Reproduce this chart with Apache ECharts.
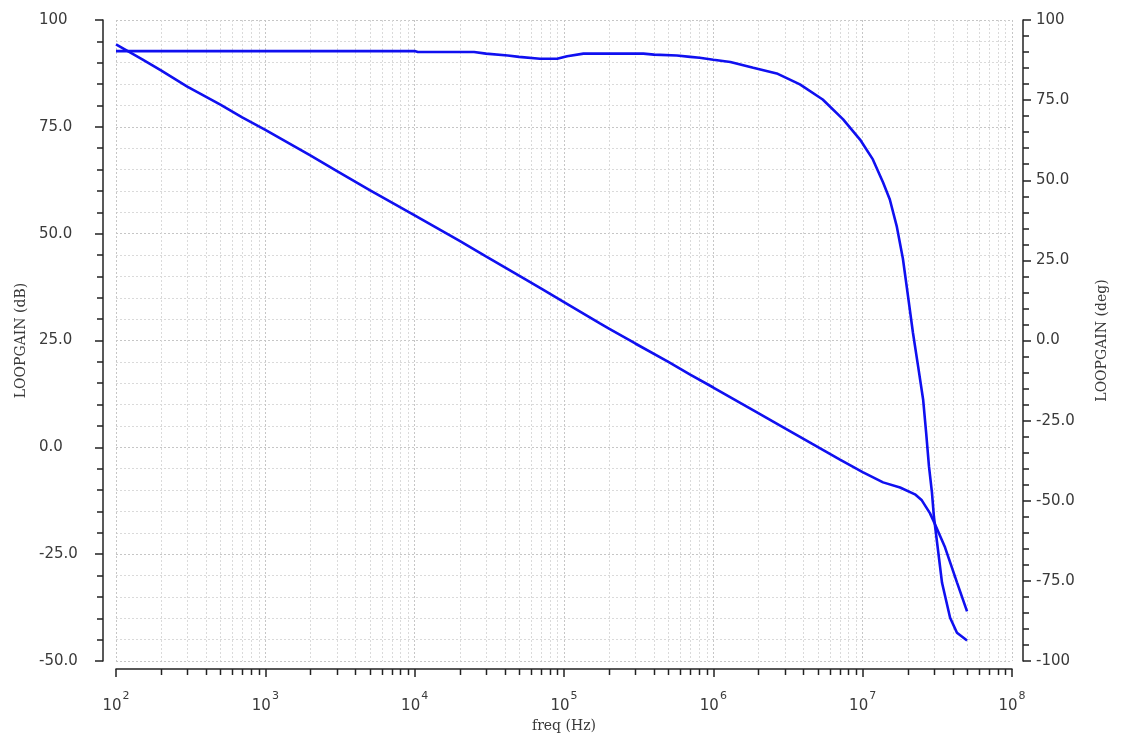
<!DOCTYPE html>
<html>
<head>
<meta charset="utf-8">
<style>
  html, body { margin: 0; padding: 0; background: #ffffff; }
  #chart { width: 1123px; height: 738px; }
</style>
<script src="https://cdn.jsdelivr.net/npm/echarts@6/dist/echarts.min.js"></script>
</head>
<body>
<div id="chart"></div>
<script>
// ---- Data ----
var magFreq = [100, 150, 200, 300, 500, 700, 1e3, 2e3, 3e3, 5e3, 7e3, 1e4, 2e4, 3e4, 5e4, 7e4,
  1e5, 1.74e5, 2e5, 3e5, 5e5, 7e5, 1e6, 2e6, 3e6, 4.6e6, 7e6, 1e7, 1.37e7, 1.78e7, 2.24e7,
  2.49e7, 2.82e7, 3.05e7, 3.56e7, 4.28e7, 5e7];
var magDb = [94.3, 90.8, 88.2, 84.4, 80.2, 77.2, 74.3, 68.3, 64.7, 60.2, 57.3, 54.3, 48.3, 44.7, 40.2, 37.2,
  34.0, 29.0, 27.8, 24.3, 20.0, 17.0, 14.0, 8.0, 4.5, 0.8, -2.8, -5.8, -8.2, -9.4, -11.0,
  -12.4, -15.4, -18.0, -23.4, -31.6, -38.4];

var phaseFreq = [100, 1e4, 1.05e4, 2.5e4, 3e4, 4.2e4, 5e4, 6.9e4, 9e4, 1.05e5, 1.35e5, 3.4e5, 4e5,
  5.7e5, 7e5, 8.1e5, 1e6, 1.3e6, 1.85e6, 2.7e6, 3.8e6, 5.4e6, 7.4e6, 9.6e6, 1.17e7, 1.37e7,
  1.52e7, 1.69e7, 1.86e7, 2.01e7, 2.17e7, 2.35e7, 2.54e7, 2.66e7, 2.78e7, 2.91e7, 3.0e7,
  3.4e7, 3.85e7, 4.28e7, 5e7];
var phaseDeg = [90.3, 90.3, 90.0, 90.0, 89.5, 88.9, 88.5, 87.9, 87.9, 88.7, 89.5, 89.5, 89.2,
  88.9, 88.5, 88.2, 87.6, 86.9, 85.1, 83.2, 79.9, 75.2, 69.0, 62.7, 56.5, 49.3,
  44.0, 35.7, 25.5, 14.0, 2.5, -8.0, -18.4, -28.7, -39.3, -47.4, -55.0,
  -75.6, -86.5, -91.2, -93.6];

var xTickExponents = ['2', '3', '4', '5', '6', '7', '8'];
var leftTickLabels = ['-50.0', '-25.0', '0.0', '25.0', '50.0', '75.0', '100'];
var rightTickLabels = ['-100', '-75.0', '-50.0', '-25.0', '0.0', '25.0', '50.0', '75.0', '100'];
var minorFreqs = [];
[100, 1e3, 1e4, 1e5, 1e6, 1e7].forEach(function (d) {
  [2, 3, 4, 5, 6, 7, 8, 9].forEach(function (k) { minorFreqs.push(k * d); });
});

// ---- Chart ----
var chart = echarts.init(document.getElementById('chart'), null, { renderer: 'canvas' });
var lineColor = '#1010f0';
var axisColor = '#222222';
var labelColor = '#3a3a3a';
var gridMajor = '#c6c6c6';
var gridMinor = '#dadada';
var numFont = '"DejaVu Sans", Verdana, sans-serif';
var nameFont = '"DejaVu Serif", "Liberation Serif", serif';

function pair(fs, vs) { return fs.map(function (f, i) { return [f, vs[i]]; }); }

var option = {
  backgroundColor: '#ffffff',
  animation: false,
  grid: { left: 116, right: 111, top: 20, bottom: 77, containLabel: false },
  xAxis: {
    type: 'log', logBase: 10, min: 100, max: 1e8, interval: 1, offset: 8,
    name: 'freq (Hz)', nameLocation: 'middle', nameGap: 43,
    nameTextStyle: { fontFamily: nameFont, fontSize: 14, color: labelColor },
    axisLine: { show: true, onZero: false, lineStyle: { color: axisColor, width: 1.5 } },
    axisTick: { show: true, length: 8, lineStyle: { color: axisColor, width: 1.5 } },
    axisLabel: {
      margin: 22, color: labelColor,
      formatter: function (v) {
        var e = Math.round(Math.log10(v));
        var idx = e - 2;
        return '{b|10}{e|' + xTickExponents[idx] + '}';
      },
      rich: {
        b: { fontFamily: numFont, fontSize: 15, color: labelColor, padding: [8, 0, 0, 0] },
        e: { fontFamily: numFont, fontSize: 11, color: labelColor, verticalAlign: 'top', padding: [0, 0, 0, 1] }
      }
    },
    splitLine: { show: true, lineStyle: { color: gridMajor, type: [2, 2], width: 1 } }
  },
  yAxis: [
    {
      type: 'value', position: 'left', min: -50, max: 100, interval: 25, offset: 13,
      name: 'LOOPGAIN (dB)', nameLocation: 'middle', nameGap: 70, nameRotate: 90,
      nameTextStyle: { fontFamily: nameFont, fontSize: 14, color: labelColor },
      axisLine: { show: true, lineStyle: { color: axisColor, width: 1.5 } },
      axisTick: { show: true, length: 8, lineStyle: { color: axisColor, width: 1.5 } },
      minorTick: { show: true, splitNumber: 5, length: 6, lineStyle: { color: axisColor, width: 1.5 } },
      axisLabel: {
        margin: 64, align: 'left', color: labelColor, fontFamily: numFont, fontSize: 15,
        formatter: function (v) { return leftTickLabels[Math.round((v + 50) / 25)]; }
      },
      splitLine: { show: true, lineStyle: { color: gridMajor, type: [2, 2], width: 1 } },
      minorSplitLine: { show: true, lineStyle: { color: gridMinor, type: [2, 2], width: 1 } }
    },
    {
      type: 'value', position: 'right', min: -100, max: 100, interval: 25, offset: 11,
      name: 'LOOPGAIN (deg)', nameLocation: 'middle', nameGap: 72, nameRotate: 90,
      nameTextStyle: { fontFamily: nameFont, fontSize: 14, color: labelColor },
      axisLine: { show: true, lineStyle: { color: axisColor, width: 1.5 } },
      axisTick: { show: true, length: 8, lineStyle: { color: axisColor, width: 1.5 } },
      minorTick: { show: true, splitNumber: 5, length: 6, lineStyle: { color: axisColor, width: 1.5 } },
      axisLabel: {
        margin: 13, align: 'left', color: labelColor, fontFamily: numFont, fontSize: 15,
        formatter: function (v) { return rightTickLabels[Math.round((v + 100) / 25)]; }
      },
      splitLine: { show: false }
    }
  ],
  series: [
    {
      type: 'custom', name: 'minorGrid', xAxisIndex: 0, yAxisIndex: 0, z: 1, silent: true,
      clip: false,
      data: minorFreqs.map(function (f) { return [f, 0]; }),
      encode: { x: 0, y: 1 },
      renderItem: function (params, api) {
        var p = api.coord([api.value(0), 0]);
        var cs = params.coordSys;
        var x = Math.round(p[0]) + 0.5;
        var bottom = cs.y + cs.height;
        return {
          type: 'group',
          children: [
            { type: 'line', shape: { x1: x, y1: cs.y, x2: x, y2: bottom },
              style: { stroke: gridMinor, lineWidth: 1, lineDash: [2, 2] } },
            { type: 'line', shape: { x1: x, y1: bottom + 8, x2: x, y2: bottom + 14 },
              style: { stroke: axisColor, lineWidth: 1.5 } }
          ]
        };
      }
    },
    {
      type: 'line', name: 'LOOPGAIN (dB)', xAxisIndex: 0, yAxisIndex: 0, z: 3,
      data: pair(magFreq, magDb), showSymbol: false, symbol: 'none',
      lineStyle: { color: lineColor, width: 2.6 }
    },
    {
      type: 'line', name: 'LOOPGAIN (deg)', xAxisIndex: 0, yAxisIndex: 1, z: 3,
      data: pair(phaseFreq, phaseDeg), showSymbol: false, symbol: 'none',
      lineStyle: { color: lineColor, width: 2.6 }
    }
  ]
};
chart.setOption(option);
</script>
</body>
</html>
